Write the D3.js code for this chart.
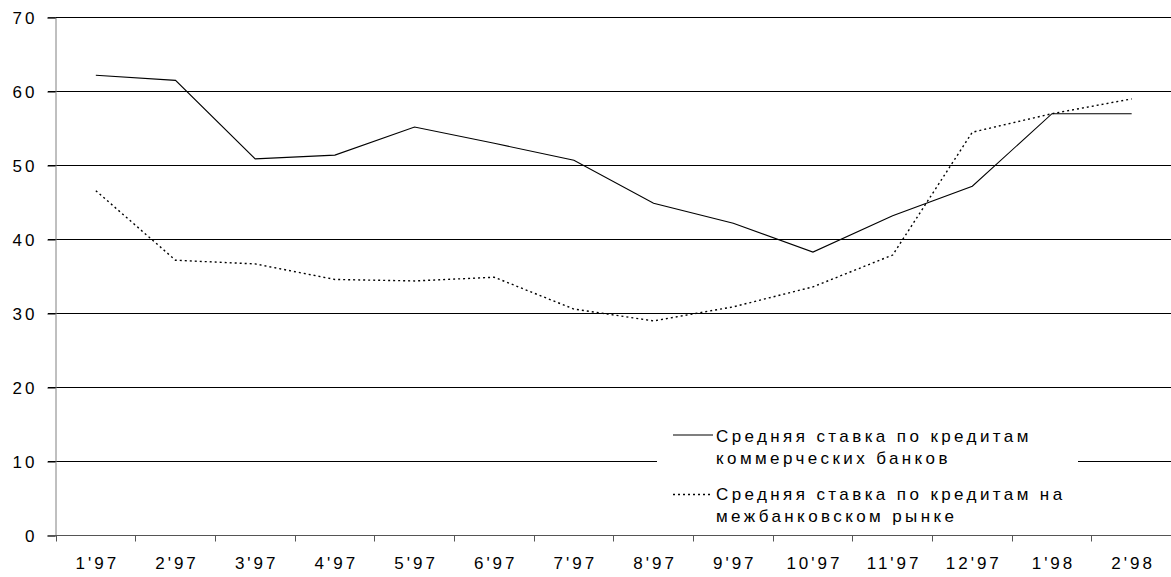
<!DOCTYPE html>
<html>
<head>
<meta charset="utf-8">
<script src="https://cdn.jsdelivr.net/npm/d3@7/dist/d3.min.js"></script>
<style>
  html, body { margin: 0; padding: 0; background: #fff; }
  svg text { font-family: "Liberation Sans", Arial, sans-serif; fill: #000; }
</style>
</head>
<body>
<svg id="chart" width="1171" height="577"></svg>
<script>
// Monthly periods, January 1997 – February 1998
const months = ["1'97", "2'97", "3'97", "4'97", "5'97", "6'97", "7'97",
                "8'97", "9'97", "10'97", "11'97", "12'97", "1'98", "2'98"];

// Average lending rate of commercial banks, %
const commercialRate = [62.2, 61.5, 50.9, 51.4, 55.2, 53.0, 50.7,
                        44.9, 42.2, 38.3, 43.2, 47.2, 57.0, 57.0];

// Average interbank lending rate, %
const interbankRate = [46.6, 37.2, 36.7, 34.6, 34.4, 34.9, 30.6,
                       29.0, 30.9, 33.6, 37.9, 54.5, 57.0, 59.0];

const yTicks = [0, 10, 20, 30, 40, 50, 60, 70];

const legendLabels = [
  ["Средняя ставка по кредитам", "коммерческих банков"],
  ["Средняя ставка по кредитам на", "межбанковском рынке"]
];

const svg = d3.select("#chart");
const W = 1171;
const plotLeft = 56, plotRight = 1171.5, plotTop = 17.5, plotBottom = 535.5;

const x = d3.scaleBand().domain(months).range([plotLeft, plotRight]).padding(0);
const y = d3.scaleLinear().domain([0, 70]).range([plotBottom, plotTop]);
const cx = m => x(m) + x.bandwidth() / 2;
const crisp = v => Math.round(v - 0.5) + 0.5;

// Horizontal gridlines (they also serve as the y tick marks)
svg.append("g")
  .selectAll("line")
  .data(yTicks.filter(t => t > 0))
  .join("line")
  .attr("x1", 48).attr("x2", W)
  .attr("y1", d => y(d)).attr("y2", d => y(d))
  .attr("stroke", "#000").attr("stroke-width", 1);

// Y axis
const yAxis = svg.append("g")
  .attr("transform", `translate(${plotLeft - 0.5},0)`)
  .call(d3.axisLeft(y).tickValues(yTicks).tickSize(8).tickPadding(0));
yAxis.select(".domain").attr("stroke", "#808080");
yAxis.selectAll(".tick line").attr("stroke", "#000");
yAxis.selectAll(".tick text")
  .attr("x", -18)
  .attr("dy", "0.36em")
  .attr("font-size", "17px")
  .attr("letter-spacing", "3px")
  .style("font-family", '"Liberation Sans", Arial, sans-serif')
  .attr("fill", "#000");

// X axis: ticks sit on the month boundaries, labels in the middle
const boundaries = months.map(m => x(m)).concat([plotRight]);
svg.append("line")
  .attr("x1", plotLeft - 8).attr("x2", W)
  .attr("y1", plotBottom).attr("y2", plotBottom)
  .attr("stroke", "#555").attr("stroke-width", 1);
svg.append("g")
  .selectAll("line")
  .data(boundaries)
  .join("line")
  .attr("x1", d => crisp(d)).attr("x2", d => crisp(d))
  .attr("y1", plotBottom).attr("y2", plotBottom + 6)
  .attr("stroke", "#555").attr("stroke-width", 1);
svg.append("g")
  .selectAll("text")
  .data(months)
  .join("text")
  .attr("x", d => cx(d) + 1.5)
  .attr("y", 569)
  .attr("text-anchor", "middle")
  .attr("font-size", "17px")
  .attr("letter-spacing", "3px")
  .text(d => d);

// Series lines
const line = d3.line().x((d, i) => cx(months[i])).y(d => y(d));

svg.append("path")
  .datum(interbankRate)
  .attr("d", line)
  .attr("fill", "none")
  .attr("stroke", "#000")
  .attr("stroke-width", 1.4)
  .attr("stroke-dasharray", "2,3");

svg.append("path")
  .datum(commercialRate)
  .attr("d", line)
  .attr("fill", "none")
  .attr("stroke", "#000")
  .attr("stroke-width", 1.1);

// Legend on a white panel over the lower gridline
const legend = svg.append("g");
legend.append("rect")
  .attr("x", 657).attr("y", 418)
  .attr("width", 421).attr("height", 112)
  .attr("fill", "#fff");

const legendRows = [
  { lineY: 435, baseline: 442, dash: null },
  { lineY: 494.5, baseline: 500, dash: "2,3" }
];
legendRows.forEach((r, i) => {
  legend.append("line")
    .attr("x1", 673).attr("x2", 713)
    .attr("y1", r.lineY).attr("y2", r.lineY)
    .attr("stroke", "#000")
    .attr("stroke-width", r.dash ? 1.4 : 1.1)
    .attr("stroke-dasharray", r.dash);
  legend.append("text")
    .attr("x", 716)
    .attr("y", r.baseline)
    .attr("font-size", "17px")
    .attr("letter-spacing", "3.4px")
    .selectAll("tspan")
    .data(legendLabels[i])
    .join("tspan")
    .attr("x", 716)
    .attr("dy", (d, j) => j === 0 ? 0 : 21.5)
    .text(d => d);
});
</script>
</body>
</html>
